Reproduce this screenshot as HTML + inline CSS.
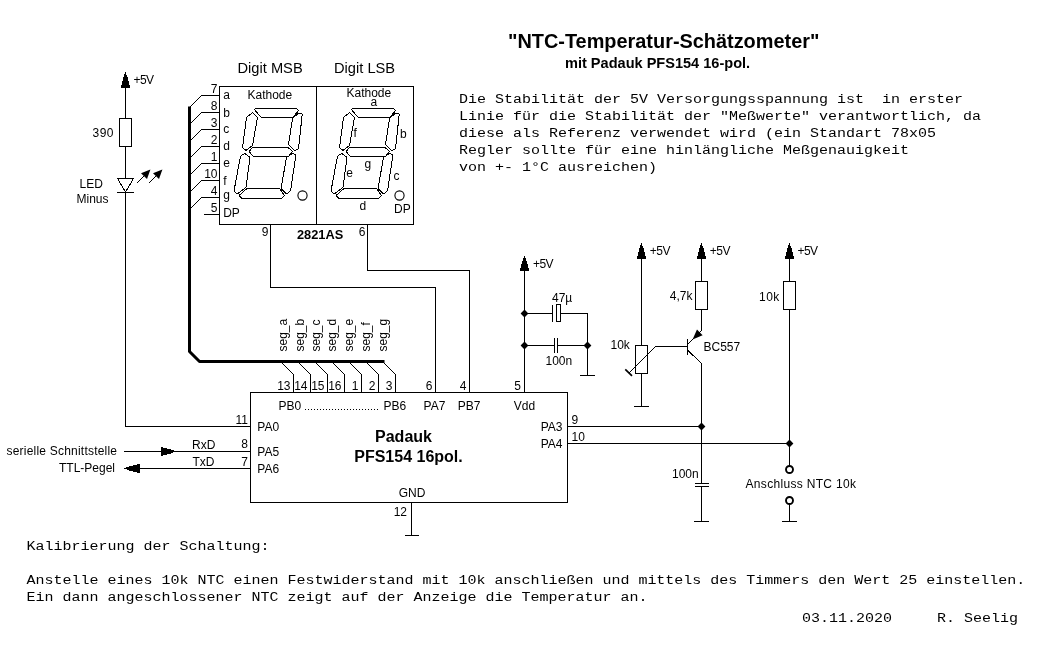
<!DOCTYPE html>
<html><head><meta charset="utf-8"><title>NTC-Temperatur-Schätzometer</title>
<style>
html,body{margin:0;padding:0;background:#fff;}
svg{display:block;}
.s{font-family:"Liberation Sans",sans-serif;font-size:12px;fill:#000;stroke:none;}
.m{font-family:"Liberation Mono",monospace;font-size:15px;fill:#000;stroke:none;white-space:pre;}
</style></head><body>
<svg width="1046" height="661" viewBox="0 0 1046 661">
<rect x="0" y="0" width="1046" height="661" fill="#fff" stroke="none"/>
<g fill="none" stroke="#000" stroke-width="1" stroke-linecap="butt" shape-rendering="crispEdges">
<path d="M0,0 L1.6,4 L2.8,8 L3.9,12.5 L4.5,13.6 L4.5,15.5 L-4.5,15.5 L-4.5,13.6 L-3.9,12.5 L-2.8,8 L-1.6,4 Z" transform="translate(125.5,72) rotate(0)" fill="#000" stroke="none"/>
<path d="M125.5,87 V118.5" stroke-width="1" />
<rect x="119.5" y="118.5" width="12.0" height="28.0" fill="#fff"/>
<path d="M125.5,146.5 V426.5 H250.5" stroke-width="1" />
<path d="M117.5,178.5 H133.5 L125.5,192 Z" stroke-width="1" fill="#fff"/>
<path d="M117,192.5 H134" stroke-width="1" />
<path d="M137,183 L145,175" stroke-width="1" />
<path d="M150.4,169.6 L147,179 L141,173.2 Z" fill="#000" stroke="none" shape-rendering="auto"/>
<path d="M149,183 L157,175" stroke-width="1" />
<path d="M162.4,169.6 L159,179 L153,173.2 Z" fill="#000" stroke="none" shape-rendering="auto"/>
<rect x="219.5" y="86.5" width="194.0" height="138.0" fill="#fff"/>
<path d="M316.5,86.5 V224.5" stroke-width="1" />
<path d="M219.5,95.5 H201.5 L189.5,107.5" stroke-width="1" />
<path d="M219.5,112.5 H201.5 L189.5,124.5" stroke-width="1" />
<path d="M219.5,129.5 H201.5 L189.5,141.5" stroke-width="1" />
<path d="M219.5,146.5 H201.5 L189.5,158.5" stroke-width="1" />
<path d="M219.5,163.5 H201.5 L189.5,175.5" stroke-width="1" />
<path d="M219.5,180.5 H201.5 L189.5,192.5" stroke-width="1" />
<path d="M219.5,197.5 H201.5 L189.5,209.5" stroke-width="1" />
<path d="M219.5,214.5 H204" stroke-width="1" />
<path d="M255.10,110.35 Q254.4,109.5 254.95,109.00 L254.95,109.00 Q255.5,108.5 256.60,108.50 L295.90,108.50 Q297,108.5 297.66,109.38 L297.84,109.62 Q298.5,110.5 297.82,111.36 L293.68,116.64 Q293,117.5 291.90,117.50 L262.10,117.50 Q261,117.5 260.30,116.65 Z" fill="#fff"/>
<path d="M251.65,113.20 Q252.5,112.5 253.28,113.28 L256.72,116.72 Q257.5,117.5 257.31,118.58 L252.69,144.42 Q252.5,145.5 251.63,146.17 L246.87,149.83 Q246,150.5 245.16,149.78 L243.34,148.22 Q242.5,147.5 242.65,146.41 L246.35,118.59 Q246.5,117.5 247.35,116.80 Z" fill="#fff"/>
<path d="M301.20,113.50 Q302.3,113.5 302.18,114.59 L298.62,147.91 Q298.5,149 297.49,149.43 L295.51,150.27 Q294.5,150.7 293.74,149.91 L289.26,145.29 Q288.5,144.5 288.67,143.41 L292.33,119.59 Q292.5,118.5 293.31,117.76 L297.19,114.24 Q298,113.5 299.10,113.50 Z" fill="#fff"/>
<path d="M249.74,152.32 Q249,151.5 249.72,150.67 L251.78,148.33 Q252.5,147.5 253.60,147.50 L286.90,147.50 Q288,147.5 288.82,148.23 L291.68,150.77 Q292.5,151.5 291.81,152.36 L289.19,155.64 Q288.5,156.5 287.40,156.50 L254.60,156.50 Q253.5,156.5 252.76,155.68 Z" fill="#fff"/>
<path d="M244.04,154.03 Q245,153.5 245.86,154.19 L249.14,156.81 Q250,157.5 249.85,158.59 L246.15,186.41 Q246,187.5 245.11,188.14 L237.89,193.36 Q237,194 236.22,193.22 L234.78,191.78 Q234,191 234.20,189.92 L240.30,157.08 Q240.5,156 241.46,155.47 Z" fill="#fff"/>
<path d="M294.94,154.20 Q296,154.5 295.84,155.59 L290.66,189.91 Q290.5,191 289.62,191.66 L287.38,193.34 Q286.5,194 285.72,193.22 L281.78,189.28 Q281,188.5 281.19,187.42 L286.31,158.58 Q286.5,157.5 287.42,156.89 L291.58,154.11 Q292.5,153.5 293.56,153.80 Z" fill="#fff"/>
<path d="M246.17,189.22 Q247,188.5 248.10,188.50 L278.40,188.50 Q279.5,188.5 280.14,189.40 L283.86,194.60 Q284.5,195.5 283.80,196.35 L282.70,197.65 Q282,198.5 280.90,198.50 L243.10,198.50 Q242,198.5 241.22,197.72 L239.78,196.28 Q239,195.5 239.83,194.78 Z" fill="#fff"/>
<circle cx="302.5" cy="195.5" r="4.6" fill="#fff" stroke-width="1.1" shape-rendering="auto"/>
<path d="M352.10,110.35 Q351.4,109.5 351.95,109.00 L351.95,109.00 Q352.5,108.5 353.60,108.50 L392.90,108.50 Q394,108.5 394.66,109.38 L394.84,109.62 Q395.5,110.5 394.82,111.36 L390.68,116.64 Q390,117.5 388.90,117.50 L359.10,117.50 Q358,117.5 357.30,116.65 Z" fill="#fff"/>
<path d="M348.65,113.20 Q349.5,112.5 350.28,113.28 L353.72,116.72 Q354.5,117.5 354.31,118.58 L349.69,144.42 Q349.5,145.5 348.63,146.17 L343.87,149.83 Q343,150.5 342.16,149.78 L340.34,148.22 Q339.5,147.5 339.65,146.41 L343.35,118.59 Q343.5,117.5 344.35,116.80 Z" fill="#fff"/>
<path d="M398.20,113.50 Q399.3,113.5 399.18,114.59 L395.62,147.91 Q395.5,149 394.49,149.43 L392.51,150.27 Q391.5,150.7 390.74,149.91 L386.26,145.29 Q385.5,144.5 385.67,143.41 L389.33,119.59 Q389.5,118.5 390.31,117.76 L394.19,114.24 Q395,113.5 396.10,113.50 Z" fill="#fff"/>
<path d="M346.74,152.32 Q346,151.5 346.72,150.67 L348.78,148.33 Q349.5,147.5 350.60,147.50 L383.90,147.50 Q385,147.5 385.82,148.23 L388.68,150.77 Q389.5,151.5 388.81,152.36 L386.19,155.64 Q385.5,156.5 384.40,156.50 L351.60,156.50 Q350.5,156.5 349.76,155.68 Z" fill="#fff"/>
<path d="M341.04,154.03 Q342,153.5 342.86,154.19 L346.14,156.81 Q347,157.5 346.85,158.59 L343.15,186.41 Q343,187.5 342.11,188.14 L334.89,193.36 Q334,194 333.22,193.22 L331.78,191.78 Q331,191 331.20,189.92 L337.30,157.08 Q337.5,156 338.46,155.47 Z" fill="#fff"/>
<path d="M391.94,154.20 Q393,154.5 392.84,155.59 L387.66,189.91 Q387.5,191 386.62,191.66 L384.38,193.34 Q383.5,194 382.72,193.22 L378.78,189.28 Q378,188.5 378.19,187.42 L383.31,158.58 Q383.5,157.5 384.42,156.89 L388.58,154.11 Q389.5,153.5 390.56,153.80 Z" fill="#fff"/>
<path d="M343.17,189.22 Q344,188.5 345.10,188.50 L375.40,188.50 Q376.5,188.5 377.14,189.40 L380.86,194.60 Q381.5,195.5 380.80,196.35 L379.70,197.65 Q379,198.5 377.90,198.50 L340.10,198.50 Q339,198.5 338.22,197.72 L336.78,196.28 Q336,195.5 336.83,194.78 Z" fill="#fff"/>
<circle cx="399.5" cy="195.5" r="4.6" fill="#fff" stroke-width="1.1" shape-rendering="auto"/>
<path d="M270.5,224.5 V287.5 H435.5 V392.5" stroke-width="1" />
<path d="M367.5,224.5 V270.5 H469.5 V392.5" stroke-width="1" />
<path d="M189.5,106.5 V351.5 L199.5,361.5 H384.5" stroke-width="3" stroke-linejoin="round" shape-rendering="geometricPrecision"/>
<path d="M293.5,392.5 V374.5 L281.5,362.5" stroke-width="1" />
<path d="M310.5,392.5 V374.5 L298.5,362.5" stroke-width="1" />
<path d="M327.5,392.5 V374.5 L315.5,362.5" stroke-width="1" />
<path d="M344.5,392.5 V374.5 L332.5,362.5" stroke-width="1" />
<path d="M361.5,392.5 V374.5 L349.5,362.5" stroke-width="1" />
<path d="M378.5,392.5 V374.5 L366.5,362.5" stroke-width="1" />
<path d="M395.5,392.5 V374.5 L383.5,362.5" stroke-width="1" />
<rect x="250.5" y="392.5" width="317.0" height="110.0" fill="#fff"/>
<path d="M305,409.5 H378" stroke-dasharray="1 2"/>
<path d="M411.5,502.5 V535.5" stroke-width="1" />
<path d="M404.5,535.5 H418.5" stroke-width="1" />
<path d="M124,451.5 H250.5" stroke-width="1" />
<path d="M124,468.5 H250.5" stroke-width="1" />
<path d="M0,0 L1.6,4 L2.8,8 L3.9,12.5 L4.5,13.6 L4.5,15.5 L-4.5,15.5 L-4.5,13.6 L-3.9,12.5 L-2.8,8 L-1.6,4 Z" transform="translate(176,451.5) rotate(90)" fill="#000" stroke="none"/>
<path d="M0,0 L1.6,4 L2.8,8 L3.9,12.5 L4.5,13.6 L4.5,15.5 L-4.5,15.5 L-4.5,13.6 L-3.9,12.5 L-2.8,8 L-1.6,4 Z" transform="translate(124,468.5) rotate(-90)" fill="#000" stroke="none"/>
<path d="M0,0 L1.6,4 L2.8,8 L3.9,12.5 L4.5,13.6 L4.5,15.5 L-4.5,15.5 L-4.5,13.6 L-3.9,12.5 L-2.8,8 L-1.6,4 Z" transform="translate(524.5,255.5) rotate(0)" fill="#000" stroke="none"/>
<path d="M524.5,270 V392.5" stroke-width="1" />
<path d="M524.5,309.6 L528.4,313.5 L524.5,317.4 L520.6,313.5 Z" fill="#000" stroke="none" shape-rendering="auto"/>
<path d="M524.5,341.6 L528.4,345.5 L524.5,349.4 L520.6,345.5 Z" fill="#000" stroke="none" shape-rendering="auto"/>
<path d="M587.5,341.6 L591.4,345.5 L587.5,349.4 L583.6,345.5 Z" fill="#000" stroke="none" shape-rendering="auto"/>
<path d="M524.5,313.5 H552.5" stroke-width="1" />
<path d="M552.5,304.5 V321.5" stroke-width="1" />
<rect x="556.5" y="304.5" width="4.0" height="17.0" fill="#fff"/>
<path d="M560.5,313.5 H587.5 V375.5" stroke-width="1" />
<path d="M580.0,375.5 H595.0" stroke-width="1" />
<path d="M524.5,345.5 H554.5" stroke-width="1" />
<path d="M554.5,337.5 V353" stroke-width="1" />
<path d="M557.5,337.5 V353" stroke-width="1" />
<path d="M557.5,345.5 H587.5" stroke-width="1" />
<path d="M0,0 L1.6,4 L2.8,8 L3.9,12.5 L4.5,13.6 L4.5,15.5 L-4.5,15.5 L-4.5,13.6 L-3.9,12.5 L-2.8,8 L-1.6,4 Z" transform="translate(641.5,243) rotate(0)" fill="#000" stroke="none"/>
<path d="M641.5,258 V345.5" stroke-width="1" />
<rect x="635.5" y="345.5" width="12.0" height="28.0" fill="#fff"/>
<path d="M641.5,373.5 V406.5" stroke-width="1" />
<path d="M634.0,406.5 H649.0" stroke-width="1" />
<path d="M628.5,373.5 L655.5,346.5 H687.5" stroke-width="1" />
<path d="M625.3,369.3 L632,375.8" stroke-width="1.7" shape-rendering="auto"/>
<path d="M687.5,338.5 V354.5" stroke-width="1" />
<path d="M0,0 L1.6,4 L2.8,8 L3.9,12.5 L4.5,13.6 L4.5,15.5 L-4.5,15.5 L-4.5,13.6 L-3.9,12.5 L-2.8,8 L-1.6,4 Z" transform="translate(701.5,243) rotate(0)" fill="#000" stroke="none"/>
<path d="M701.5,258 V281.5" stroke-width="1" />
<rect x="695.5" y="281.5" width="12.0" height="28.0" fill="#fff"/>
<path d="M701.5,309.5 V330.5 L687.5,344.5" stroke-width="1" />
<path d="M692.6,339.6 L702.6,335.2 L697,329.4 Z" fill="#000" stroke="none" shape-rendering="auto"/>
<path d="M687.5,350 L701.5,363.5 V483.5" stroke-width="1" />
<path d="M694.5,483.5 H709" stroke-width="1" />
<path d="M694.5,486.5 H709" stroke-width="1" />
<path d="M701.5,486.5 V521.5" stroke-width="1" />
<path d="M694.0,521.5 H709.0" stroke-width="1" />
<path d="M567.5,426.5 H701.5" stroke-width="1" />
<path d="M701.5,422.6 L705.4,426.5 L701.5,430.4 L697.6,426.5 Z" fill="#000" stroke="none" shape-rendering="auto"/>
<path d="M567.5,443.5 H789.5" stroke-width="1" />
<path d="M789.5,439.6 L793.4,443.5 L789.5,447.4 L785.6,443.5 Z" fill="#000" stroke="none" shape-rendering="auto"/>
<path d="M0,0 L1.6,4 L2.8,8 L3.9,12.5 L4.5,13.6 L4.5,15.5 L-4.5,15.5 L-4.5,13.6 L-3.9,12.5 L-2.8,8 L-1.6,4 Z" transform="translate(789.5,243) rotate(0)" fill="#000" stroke="none"/>
<path d="M789.5,258 V281.5" stroke-width="1" />
<rect x="783.5" y="281.5" width="12.0" height="28.0" fill="#fff"/>
<path d="M789.5,309.5 V466" stroke-width="1" />
<circle cx="789.5" cy="469.5" r="3.5" fill="#fff" stroke-width="1.9" shape-rendering="auto"/>
<circle cx="789.5" cy="500.5" r="3.5" fill="#fff" stroke-width="1.9" shape-rendering="auto"/>
<path d="M789.5,504 V521.5" stroke-width="1" />
<path d="M782.0,521.5 H797.0" stroke-width="1" />
</g>
<g style="opacity:0.999">
<text class="s" x="133.5" y="83.5" textLength="20.6" lengthAdjust="spacing">+5V</text>
<text class="s" x="113.5" y="137" text-anchor="end" textLength="21" lengthAdjust="spacing">390</text>
<text class="s" x="79.5" y="187.5">LED</text>
<text class="s" x="76.5" y="202.5">Minus</text>
<text class="s" x="217.5" y="92.5" text-anchor="end">7</text>
<text class="s" x="217.5" y="109.5" text-anchor="end">8</text>
<text class="s" x="217.5" y="126.5" text-anchor="end">3</text>
<text class="s" x="217.5" y="143.5" text-anchor="end">2</text>
<text class="s" x="217.5" y="160.5" text-anchor="end">1</text>
<text class="s" x="217.5" y="177.5" text-anchor="end">10</text>
<text class="s" x="217.5" y="194.5" text-anchor="end">4</text>
<text class="s" x="217.5" y="211.5" text-anchor="end">5</text>
<text class="s" x="223.2" y="98.5">a</text>
<text class="s" x="223.2" y="116.5">b</text>
<text class="s" x="223.2" y="132.5">c</text>
<text class="s" x="223.2" y="150">d</text>
<text class="s" x="223.2" y="166.5">e</text>
<text class="s" x="223.2" y="184.5">f</text>
<text class="s" x="223.2" y="199">g</text>
<text class="s" x="223.2" y="217">DP</text>
<text class="s" x="237.5" y="73.3" style="font-size:14.67px">Digit MSB</text>
<text class="s" x="334" y="73.3" style="font-size:14.67px">Digit LSB</text>
<text class="s" x="247.5" y="98.5">Kathode</text>
<text class="s" x="346.5" y="97">Kathode</text>
<text class="s" x="370.5" y="105.5">a</text>
<text class="s" x="353.5" y="136.5">f</text>
<text class="s" x="400" y="138">b</text>
<text class="s" x="364.5" y="167.5">g</text>
<text class="s" x="346.3" y="176.5">e</text>
<text class="s" x="393.5" y="180">c</text>
<text class="s" x="359.5" y="210">d</text>
<text class="s" x="394" y="212.5">DP</text>
<text class="s" x="297" y="238.5" font-weight="bold" style="font-size:12.8px">2821AS</text>
<text class="s" x="268.5" y="235.5" text-anchor="end">9</text>
<text class="s" x="365.5" y="235.5" text-anchor="end">6</text>
<text class="s" x="290.5" y="389.5" text-anchor="end">13</text>
<text class="s" x="307.5" y="389.5" text-anchor="end">14</text>
<text class="s" x="324.5" y="389.5" text-anchor="end">15</text>
<text class="s" x="341.5" y="389.5" text-anchor="end">16</text>
<text class="s" x="358.5" y="389.5" text-anchor="end">1</text>
<text class="s" x="375.5" y="389.5" text-anchor="end">2</text>
<text class="s" x="392.5" y="389.5" text-anchor="end">3</text>
<text class="s" transform="translate(286.5,351.5) rotate(-90)">seg_a</text>
<text class="s" transform="translate(303.5,351.5) rotate(-90)">seg_b</text>
<text class="s" transform="translate(319.5,351.5) rotate(-90)">seg_c</text>
<text class="s" transform="translate(335.6,351.5) rotate(-90)">seg_d</text>
<text class="s" transform="translate(352.6,351.5) rotate(-90)">seg_e</text>
<text class="s" transform="translate(370,351.5) rotate(-90)">seg_f</text>
<text class="s" transform="translate(386.6,351.5) rotate(-90)">seg_g</text>
<text class="s" x="432.5" y="389.5" text-anchor="end">6</text>
<text class="s" x="466.5" y="389.5" text-anchor="end">4</text>
<text class="s" x="521" y="389.5" text-anchor="end">5</text>
<text class="s" x="278.5" y="410">PB0</text>
<text class="s" x="383.5" y="410">PB6</text>
<text class="s" x="434.5" y="410" text-anchor="middle">PA7</text>
<text class="s" x="469" y="410" text-anchor="middle">PB7</text>
<text class="s" x="524.5" y="410" text-anchor="middle">Vdd</text>
<text class="s" x="257.3" y="430.5">PA0</text>
<text class="s" x="257.3" y="455.5">PA5</text>
<text class="s" x="257.3" y="472.5">PA6</text>
<text class="s" x="562.5" y="430.5" text-anchor="end">PA3</text>
<text class="s" x="562.5" y="447.5" text-anchor="end">PA4</text>
<text class="s" x="412" y="496.5" text-anchor="middle">GND</text>
<text class="s" x="403.5" y="442" text-anchor="middle" font-weight="bold" style="font-size:16px">Padauk</text>
<text class="s" x="408.5" y="462" text-anchor="middle" font-weight="bold" style="font-size:16px">PFS154 16pol.</text>
<text class="s" x="248" y="423.5" text-anchor="end">11</text>
<text class="s" x="248" y="448" text-anchor="end">8</text>
<text class="s" x="248" y="465.5" text-anchor="end">7</text>
<text class="s" x="571.5" y="423.5">9</text>
<text class="s" x="571.5" y="440.5">10</text>
<text class="s" x="407" y="516" text-anchor="end">12</text>
<text class="s" x="192" y="448.5">RxD</text>
<text class="s" x="192.5" y="465.5">TxD</text>
<text class="s" x="117" y="455" text-anchor="end" textLength="110.5" lengthAdjust="spacing">serielle Schnittstelle</text>
<text class="s" x="115" y="472" text-anchor="end">TTL-Pegel</text>
<text class="s" x="533" y="267.5" textLength="20.6" lengthAdjust="spacing">+5V</text>
<text class="s" x="552" y="302">47µ</text>
<text class="s" x="545.5" y="365">100n</text>
<text class="s" x="649.8" y="254.5" textLength="20.6" lengthAdjust="spacing">+5V</text>
<text class="s" x="610.5" y="348.5">10k</text>
<text class="s" x="709.8" y="254.5" textLength="20.6" lengthAdjust="spacing">+5V</text>
<text class="s" x="692.5" y="299.5" text-anchor="end">4,7k</text>
<text class="s" x="703.5" y="350.5">BC557</text>
<text class="s" x="672" y="477.5">100n</text>
<text class="s" x="797.5" y="254.5" textLength="20.6" lengthAdjust="spacing">+5V</text>
<text class="s" x="779.3" y="300.5" text-anchor="end" textLength="20.3" lengthAdjust="spacing">10k</text>
<text class="s" x="745.5" y="487.5" textLength="110.5" lengthAdjust="spacing">Anschluss NTC 10k</text>
<text class="s" x="508" y="48" font-weight="bold" style="font-size:19.9px">&quot;NTC-Temperatur-Schätzometer&quot;</text>
<text class="s" x="565" y="67.5" font-weight="bold" style="font-size:14.55px">mit Padauk PFS154 16-pol.</text>
<text class="m" transform="translate(459,102.5) scale(1,0.8)" xml:space="preserve">Die Stabilität der 5V Versorgungsspannung ist  in erster</text>
<text class="m" transform="translate(459,119.5) scale(1,0.8)" xml:space="preserve">Linie für die Stabilität der &quot;Meßwerte&quot; verantwortlich, da</text>
<text class="m" transform="translate(459,136.5) scale(1,0.8)" xml:space="preserve">diese als Referenz verwendet wird (ein Standart 78x05</text>
<text class="m" transform="translate(459,153.5) scale(1,0.8)" xml:space="preserve">Regler sollte für eine hinlängliche Meßgenauigkeit</text>
<text class="m" transform="translate(459,170.5) scale(1,0.8)" xml:space="preserve">von +- 1°C ausreichen)</text>
<text class="m" transform="translate(26.5,550.5) scale(1,0.8)">Kalibrierung der Schaltung:</text>
<text class="m" transform="translate(26.5,584) scale(1,0.8)">Anstelle eines 10k NTC einen Festwiderstand mit 10k anschließen und mittels des Timmers den Wert 25 einstellen.</text>
<text class="m" transform="translate(26.5,601) scale(1,0.8)">Ein dann angeschlossener NTC zeigt auf der Anzeige die Temperatur an.</text>
<text class="m" transform="translate(802,622.5) scale(1,0.8)" xml:space="preserve">03.11.2020     R. Seelig</text>
</g>
</svg>
</body></html>
